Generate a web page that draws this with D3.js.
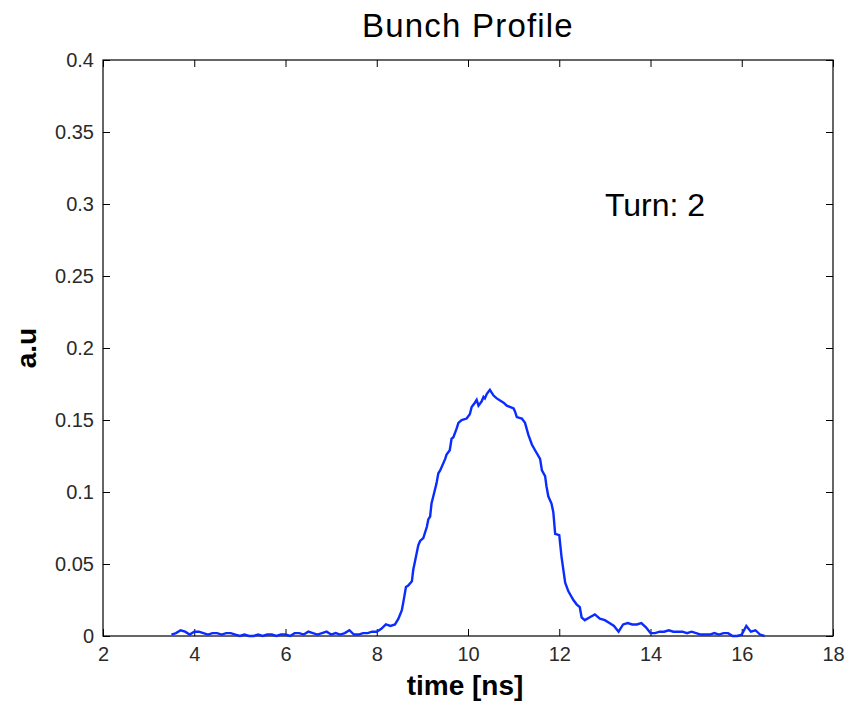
<!DOCTYPE html>
<html>
<head>
<meta charset="utf-8">
<script src="https://cdn.jsdelivr.net/npm/d3@7"></script>
<style>
  html, body { margin: 0; padding: 0; background: #fff; }
  svg { display: block; font-family: "Liberation Sans", Arial, Helvetica, sans-serif; }
</style>
</head>
<body>
<svg id="chart" width="851" height="704"></svg>
<script>
// Bunch profile samples: time [ns] and signal amplitude [a.u]
const times = [
  3.5, 3.6, 3.7, 3.8, 3.9, 4.0, 4.1, 4.2, 4.3, 4.4,
  4.5, 4.6, 4.7, 4.8, 4.9, 5.0, 5.1, 5.2, 5.3, 5.4,
  5.5, 5.6, 5.7, 5.8, 5.9, 6.0, 6.1, 6.2, 6.3, 6.4,
  6.5, 6.6, 6.7, 6.8, 6.9, 7.0, 7.1, 7.2, 7.3, 7.4,
  7.5, 7.6, 7.7, 7.8, 7.9, 8.0, 8.1, 8.2, 8.3,
  8.40, 8.475, 8.55, 8.58, 8.64, 8.69, 8.77, 8.80, 8.84, 8.91,
  8.95, 9.02, 9.10, 9.13, 9.17, 9.20, 9.24, 9.31, 9.35, 9.39,
  9.50, 9.53, 9.60, 9.64, 9.68, 9.75, 9.79, 9.86, 9.97, 10.04,
  10.08, 10.15, 10.19, 10.23, 10.30, 10.34, 10.37, 10.41, 10.48, 10.56,
  10.63, 10.78, 10.85, 11.00, 11.03, 11.07, 11.18, 11.25, 11.32, 11.40,
  11.47, 11.58, 11.62, 11.69, 11.72, 11.76, 11.83, 11.87, 11.91, 12.00,
  12.05, 12.13, 12.20, 12.31, 12.38, 12.45, 12.49, 12.56, 12.67, 12.78,
  12.89,
  13.0, 13.1, 13.2, 13.3, 13.4, 13.5, 13.6, 13.7, 13.8, 13.9,
  14.0, 14.1, 14.2, 14.3, 14.4, 14.5, 14.6, 14.7, 14.8, 14.9,
  15.0, 15.1, 15.2, 15.3, 15.4, 15.5, 15.6, 15.7, 15.8, 15.9,
  16.0, 16.1, 16.2, 16.3, 16.4, 16.5
];
const amplitude = [
  0.001, 0.002, 0.004, 0.003, 0.001, 0.003, 0.003, 0.002, 0.001, 0.002,
  0.002, 0.001, 0.002, 0.002, 0.001, 0.000, 0.001, 0.000, 0.000, 0.001,
  0.000, 0.001, 0.001, 0.000, 0.001, 0.001, 0.000, 0.002, 0.002, 0.001,
  0.003, 0.002, 0.001, 0.002, 0.003, 0.001, 0.002, 0.001, 0.002, 0.004,
  0.001, 0.001, 0.002, 0.002, 0.003, 0.003, 0.005, 0.008, 0.007,
  0.008, 0.012, 0.018, 0.023, 0.034, 0.035, 0.038, 0.046, 0.052, 0.063,
  0.066, 0.068, 0.076, 0.081, 0.083, 0.092, 0.097, 0.106, 0.113, 0.115,
  0.123, 0.126, 0.129, 0.137, 0.138, 0.144, 0.148, 0.150, 0.151, 0.154,
  0.159, 0.162, 0.164, 0.160, 0.163, 0.166, 0.165, 0.168, 0.171, 0.167,
  0.165, 0.162, 0.160, 0.158, 0.156, 0.152, 0.151, 0.148, 0.140, 0.133,
  0.129, 0.123, 0.115, 0.111, 0.104, 0.097, 0.092, 0.086, 0.071, 0.070,
  0.055, 0.037, 0.031, 0.025, 0.022, 0.020, 0.013, 0.011, 0.013, 0.015,
  0.012,
  0.011, 0.009, 0.007, 0.003, 0.008, 0.009, 0.008, 0.008, 0.009, 0.006,
  0.002, 0.002, 0.003, 0.003, 0.004, 0.003, 0.003, 0.003, 0.002, 0.003,
  0.002, 0.001, 0.001, 0.001, 0.002, 0.001, 0.002, 0.002, 0.000, 0.000,
  0.001, 0.007, 0.003, 0.004, 0.001, 0.000
];
const xTicks = [2, 4, 6, 8, 10, 12, 14, 16, 18];
const yTicks = [0, 0.05, 0.1, 0.15, 0.2, 0.25, 0.3, 0.35, 0.4];
const yTickLabels = ["0", "0.05", "0.1", "0.15", "0.2", "0.25", "0.3", "0.35", "0.4"];
const titleText = "Bunch Profile";
const xLabel = "time [ns]";
const yLabel = "a.u";
const annotation = { t: 13.0, v: 0.292, text: "Turn: 2" };

const svg = d3.select("#chart");
const W = 851, H = 704;
const margin = { left: 103, right: 18, top: 60, bottom: 68 };
const plotW = W - margin.left - margin.right;
const plotH = H - margin.top - margin.bottom;

svg.append("rect").attr("width", W).attr("height", H).attr("fill", "#fff");

const x = d3.scaleLinear().domain([2, 18]).range([margin.left, margin.left + plotW]);
const y = d3.scaleLinear().domain([0, 0.4]).range([margin.top + plotH, margin.top]);

const tickLen = 7;
const labelColor = "#2a2a2a";

// bottom axis with labels
const gx = svg.append("g")
  .attr("transform", `translate(0,${margin.top + plotH})`)
  .call(d3.axisBottom(x).tickValues(xTicks).tickSizeInner(-tickLen).tickSizeOuter(0).tickPadding(11)
    .tickFormat(d3.format("d")));
// left axis with labels
const gy = svg.append("g")
  .attr("transform", `translate(${margin.left},0)`)
  .call(d3.axisLeft(y).tickValues(yTicks).tickSizeInner(-tickLen).tickSizeOuter(0).tickPadding(9)
    .tickFormat((d, i) => yTickLabels[i]));
// mirrored ticks on top and right
const gxt = svg.append("g")
  .attr("transform", `translate(0,${margin.top})`)
  .call(d3.axisTop(x).tickValues(xTicks).tickSizeInner(-tickLen).tickSizeOuter(0).tickFormat(""));
const gyr = svg.append("g")
  .attr("transform", `translate(${margin.left + plotW},0)`)
  .call(d3.axisRight(y).tickValues(yTicks).tickSizeInner(-tickLen).tickSizeOuter(0).tickFormat(""));

[gx, gy, gxt, gyr].forEach(g => {
  g.select(".domain").remove();
  g.selectAll(".tick line").attr("stroke", "#000").attr("stroke-width", 1);
  g.selectAll(".tick text").attr("fill", labelColor).attr("font-size", 20)
    .attr("font-family", "\"Liberation Sans\", Arial, sans-serif");
});

// axes box
svg.append("rect")
  .attr("x", margin.left).attr("y", margin.top)
  .attr("width", plotW).attr("height", plotH)
  .attr("fill", "none").attr("stroke", "#000").attr("stroke-width", 1.2);

// profile trace
const line = d3.line()
  .x((d, i) => x(times[i]))
  .y(d => y(d));
svg.append("path")
  .datum(amplitude)
  .attr("d", line)
  .attr("fill", "none")
  .attr("stroke", "#0a2cff")
  .attr("stroke-width", 2.4)
  .attr("stroke-linejoin", "miter");

// title
svg.append("text")
  .attr("x", margin.left + plotW / 2).attr("y", 37)
  .attr("text-anchor", "middle")
  .attr("font-size", 33).attr("letter-spacing", 1.2)
  .attr("fill", "#000")
  .text(titleText);

// x label
svg.append("text")
  .attr("x", margin.left + plotW / 2 - 3).attr("y", 695)
  .attr("text-anchor", "middle")
  .attr("font-size", 28).attr("font-weight", "bold")
  .attr("fill", "#000")
  .text(xLabel);

// y label
svg.append("text")
  .attr("transform", `translate(36,${margin.top + plotH / 2}) rotate(-90)`)
  .attr("text-anchor", "middle")
  .attr("font-size", 28).attr("font-weight", "bold")
  .attr("fill", "#000")
  .text(yLabel);

// annotation
svg.append("text")
  .attr("x", x(annotation.t)).attr("y", y(annotation.v))
  .attr("font-size", 32)
  .attr("fill", "#000")
  .text(annotation.text);
</script>
</body>
</html>
